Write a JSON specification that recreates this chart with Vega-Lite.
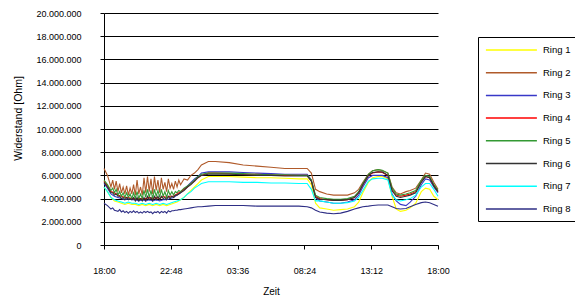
{
  "$schema": "https://vega.github.io/schema/vega-lite/v6.json",
  "width": 334,
  "height": 232,
  "autosize": {"type": "none"},
  "padding": {"left": 104, "top": 13, "right": 137, "bottom": 51},
  "background": "white",
  "config": {
    "view": {"stroke": null},
    "font": "Liberation Sans",
    "axis": {"labelFont": "Liberation Sans", "titleFont": "Liberation Sans", "labelColor": "#000", "titleColor": "#000", "titleFontWeight": "normal", "domainColor": "#000", "tickColor": "#000", "gridColor": "#000", "gridOpacity": 1}
  },
  "data": {"values": [
    {"t":0,"r1":5.0e6,"r2":6.6e6,"r3":5.3e6,"r4":5.5e6,"r5":5.6e6,"r6":5.4e6,"r7":5.0e6,"r8":3.6e6},
    {"t":0.25,"r1":4.6e6,"r2":6.0e6,"r3":4.9e6,"r4":5.1e6,"r5":5.2e6,"r6":5.0e6,"r7":4.6e6,"r8":3.4e6},
    {"t":0.5,"r1":4.1e6,"r2":5.0e6,"r3":4.4e6,"r4":4.6e6,"r5":4.7e6,"r6":4.5e6,"r7":4.1e6,"r8":3.1e6},
    {"t":0.625,"r2":5.6e6,"r5":4.9e6,"r6":4.5e6,"r8":3.2e6},
    {"t":0.75,"r1":3.8e6,"r2":4.8e6,"r3":4.2e6,"r4":4.5e6,"r5":4.5e6,"r6":4.3e6,"r7":3.9e6,"r8":3.0e6},
    {"t":0.875,"r2":5.5e6,"r5":4.8e6,"r6":4.4e6,"r8":2.95e6},
    {"t":1.0,"r1":3.7e6,"r2":4.6e6,"r3":4.1e6,"r4":4.3e6,"r5":4.3e6,"r6":4.2e6,"r7":3.8e6,"r8":2.9e6},
    {"t":1.125,"r2":5.3e6,"r5":4.6e6,"r6":4.2e6,"r8":3.05e6},
    {"t":1.25,"r1":3.6e6,"r2":4.5e6,"r3":4.0e6,"r4":4.2e6,"r5":4.2e6,"r6":4.0e6,"r7":3.7e6,"r8":2.85e6},
    {"t":1.375,"r2":5.0e6,"r5":4.5e6,"r6":4.1e6,"r8":2.95e6},
    {"t":1.5,"r1":3.5e6,"r2":4.4e6,"r3":3.9e6,"r4":4.1e6,"r5":4.1e6,"r6":3.9e6,"r7":3.6e6,"r8":2.8e6},
    {"t":1.625,"r2":5.1e6,"r5":4.5e6,"r6":4.1e6,"r8":2.9e6},
    {"t":1.75,"r1":3.6e6,"r2":4.3e6,"r3":4.0e6,"r4":4.1e6,"r5":4.1e6,"r6":3.9e6,"r7":3.7e6,"r8":2.75e6},
    {"t":1.875,"r2":4.9e6,"r5":4.4e6,"r6":4.0e6,"r8":2.9e6},
    {"t":2.0,"r1":3.5e6,"r2":4.4e6,"r3":3.9e6,"r4":4.0e6,"r5":4.0e6,"r6":3.9e6,"r7":3.6e6,"r8":2.8e6},
    {"t":2.125,"r2":5.2e6,"r5":4.5e6,"r6":4.1e6,"r8":2.95e6},
    {"t":2.25,"r1":3.5e6,"r2":4.3e6,"r3":3.9e6,"r4":4.0e6,"r5":4.0e6,"r6":3.8e6,"r7":3.6e6,"r8":2.8e6},
    {"t":2.375,"r2":5.6e6,"r5":4.6e6,"r6":4.1e6,"r8":2.9e6},
    {"t":2.5,"r1":3.4e6,"r2":4.4e6,"r3":3.8e6,"r4":4.0e6,"r5":4.0e6,"r6":3.8e6,"r7":3.5e6,"r8":2.75e6},
    {"t":2.625,"r2":5.0e6,"r5":4.4e6,"r6":4.0e6,"r8":2.85e6},
    {"t":2.75,"r1":3.5e6,"r2":4.3e6,"r3":3.9e6,"r4":4.0e6,"r5":4.0e6,"r6":3.8e6,"r7":3.6e6,"r8":2.75e6},
    {"t":2.875,"r2":5.8e6,"r5":4.7e6,"r6":4.1e6,"r8":2.9e6},
    {"t":3.0,"r1":3.4e6,"r2":4.5e6,"r3":3.8e6,"r4":4.0e6,"r5":4.1e6,"r6":3.8e6,"r7":3.5e6,"r8":2.8e6},
    {"t":3.125,"r2":5.9e6,"r5":4.8e6,"r6":4.2e6,"r8":2.9e6},
    {"t":3.25,"r1":3.5e6,"r2":4.6e6,"r3":3.9e6,"r4":4.1e6,"r5":4.1e6,"r6":3.9e6,"r7":3.6e6,"r8":2.8e6},
    {"t":3.375,"r2":5.7e6,"r5":4.7e6,"r6":4.1e6,"r8":2.85e6},
    {"t":3.5,"r1":3.4e6,"r2":4.4e6,"r3":3.8e6,"r4":4.0e6,"r5":4.0e6,"r6":3.8e6,"r7":3.5e6,"r8":2.7e6},
    {"t":3.625,"r2":5.9e6,"r5":4.8e6,"r6":4.2e6,"r8":2.85e6},
    {"t":3.75,"r1":3.5e6,"r2":4.7e6,"r3":3.9e6,"r4":4.1e6,"r5":4.2e6,"r6":3.9e6,"r7":3.6e6,"r8":2.8e6},
    {"t":3.875,"r2":5.6e6,"r5":4.7e6,"r6":4.2e6,"r8":2.9e6},
    {"t":4.0,"r1":3.4e6,"r2":4.5e6,"r3":3.8e6,"r4":4.0e6,"r5":4.1e6,"r6":3.9e6,"r7":3.5e6,"r8":2.75e6},
    {"t":4.125,"r2":5.8e6,"r5":4.8e6,"r6":4.2e6,"r8":2.9e6},
    {"t":4.25,"r1":3.5e6,"r2":4.8e6,"r3":3.9e6,"r4":4.2e6,"r5":4.2e6,"r6":4.0e6,"r7":3.6e6,"r8":2.8e6},
    {"t":4.375,"r2":5.4e6,"r5":4.6e6,"r6":4.1e6,"r8":2.9e6},
    {"t":4.5,"r1":3.4e6,"r2":4.6e6,"r3":3.9e6,"r4":4.1e6,"r5":4.1e6,"r6":3.9e6,"r7":3.5e6,"r8":2.75e6},
    {"t":4.625,"r2":5.7e6,"r5":4.7e6,"r6":4.2e6,"r8":2.95e6},
    {"t":4.75,"r1":3.5e6,"r2":4.9e6,"r3":4.0e6,"r4":4.2e6,"r5":4.3e6,"r6":4.0e6,"r7":3.6e6,"r8":2.85e6},
    {"t":4.875,"r2":5.3e6,"r5":4.6e6,"r6":4.2e6,"r8":2.95e6},
    {"t":5.0,"r1":3.6e6,"r2":4.8e6,"r3":4.1e6,"r4":4.2e6,"r5":4.3e6,"r6":4.1e6,"r7":3.7e6,"r8":2.95e6},
    {"t":5.125,"r2":5.5e6,"r5":4.6e6,"r6":4.3e6,"r8":3.0e6},
    {"t":5.25,"r1":3.7e6,"r2":5.0e6,"r3":4.3e6,"r4":4.4e6,"r5":4.5e6,"r6":4.3e6,"r7":3.8e6,"r8":3.0e6},
    {"t":5.375,"r2":5.6e6,"r5":4.7e6,"r6":4.4e6,"r8":3.05e6},
    {"t":5.5,"r1":3.9e6,"r2":5.2e6,"r3":4.5e6,"r4":4.6e6,"r5":4.6e6,"r6":4.5e6,"r7":3.9e6,"r8":3.05e6},
    {"t":5.75,"r1":4.1e6,"r2":5.7e6,"r3":4.8e6,"r4":4.8e6,"r5":4.9e6,"r6":4.7e6,"r7":4.1e6,"r8":3.1e6},
    {"t":6.0,"r1":4.4e6,"r2":5.6e6,"r3":5.1e6,"r4":5.0e6,"r5":5.1e6,"r6":5.0e6,"r7":4.4e6,"r8":3.15e6},
    {"t":6.25,"r1":4.7e6,"r2":6.0e6,"r3":5.4e6,"r4":5.3e6,"r5":5.3e6,"r6":5.2e6,"r7":4.6e6,"r8":3.2e6},
    {"t":6.5,"r1":5.0e6,"r2":6.2e6,"r3":5.7e6,"r4":5.5e6,"r5":5.6e6,"r6":5.5e6,"r7":4.9e6,"r8":3.25e6},
    {"t":6.75,"r1":5.3e6,"r2":6.5e6,"r3":5.9e6,"r4":5.8e6,"r5":5.9e6,"r6":5.8e6,"r7":5.1e6,"r8":3.3e6},
    {"t":7.0,"r1":5.6e6,"r2":6.9e6,"r3":6.2e6,"r4":6.0e6,"r5":6.1e6,"r6":6.0e6,"r7":5.3e6,"r8":3.3e6},
    {"t":7.5,"r1":5.9e6,"r2":7.2e6,"r3":6.3e6,"r4":6.2e6,"r5":6.2e6,"r6":6.1e6,"r7":5.45e6,"r8":3.35e6},
    {"t":8,"r1":5.9e6,"r2":7.2e6,"r3":6.3e6,"r4":6.2e6,"r5":6.2e6,"r6":6.1e6,"r7":5.45e6,"r8":3.4e6},
    {"t":9,"r1":5.9e6,"r2":7.1e6,"r3":6.3e6,"r4":6.15e6,"r5":6.2e6,"r6":6.1e6,"r7":5.45e6,"r8":3.4e6},
    {"t":10,"r1":5.85e6,"r2":6.9e6,"r3":6.25e6,"r4":6.1e6,"r5":6.15e6,"r6":6.05e6,"r7":5.4e6,"r8":3.4e6},
    {"t":11,"r1":5.8e6,"r2":6.8e6,"r3":6.2e6,"r4":6.1e6,"r5":6.1e6,"r6":6.0e6,"r7":5.4e6,"r8":3.35e6},
    {"t":12,"r1":5.8e6,"r2":6.7e6,"r3":6.15e6,"r4":6.05e6,"r5":6.05e6,"r6":6.0e6,"r7":5.35e6,"r8":3.35e6},
    {"t":13,"r1":5.75e6,"r2":6.6e6,"r3":6.1e6,"r4":6.0e6,"r5":6.05e6,"r6":5.95e6,"r7":5.35e6,"r8":3.35e6},
    {"t":14,"r1":5.7e6,"r2":6.6e6,"r3":6.1e6,"r4":6.0e6,"r5":6.0e6,"r6":5.95e6,"r7":5.3e6,"r8":3.35e6},
    {"t":14.6,"r1":5.7e6,"r2":6.6e6,"r3":6.1e6,"r4":6.0e6,"r5":6.0e6,"r6":5.95e6,"r7":5.3e6,"r8":3.3e6},
    {"t":14.9,"r1":5.2e6,"r2":6.2e6,"r3":5.6e6,"r4":5.5e6,"r5":5.6e6,"r6":5.5e6,"r7":4.8e6,"r8":3.2e6},
    {"t":15.2,"r1":3.6e6,"r2":4.8e6,"r3":4.1e6,"r4":4.2e6,"r5":4.3e6,"r6":4.1e6,"r7":3.8e6,"r8":3.0e6},
    {"t":15.5,"r1":3.2e6,"r2":4.6e6,"r3":3.8e6,"r4":4.0e6,"r5":4.1e6,"r6":3.95e6,"r7":3.8e6,"r8":2.85e6},
    {"t":16,"r1":3.1e6,"r2":4.4e6,"r3":3.7e6,"r4":3.9e6,"r5":4.0e6,"r6":3.9e6,"r7":3.7e6,"r8":2.75e6},
    {"t":16.5,"r1":3.0e6,"r2":4.3e6,"r3":3.6e6,"r4":3.85e6,"r5":3.95e6,"r6":3.85e6,"r7":3.6e6,"r8":2.7e6},
    {"t":17,"r1":3.05e6,"r2":4.3e6,"r3":3.6e6,"r4":3.85e6,"r5":3.95e6,"r6":3.85e6,"r7":3.6e6,"r8":2.75e6},
    {"t":17.5,"r1":3.1e6,"r2":4.3e6,"r3":3.7e6,"r4":3.9e6,"r5":4.0e6,"r6":3.9e6,"r7":3.65e6,"r8":2.9e6},
    {"t":18,"r1":3.3e6,"r2":4.5e6,"r3":3.9e6,"r4":4.1e6,"r5":4.2e6,"r6":4.1e6,"r7":3.8e6,"r8":3.1e6},
    {"t":18.3,"r1":3.7e6,"r2":4.8e6,"r3":4.3e6,"r4":4.5e6,"r5":4.6e6,"r6":4.5e6,"r7":4.1e6,"r8":3.2e6},
    {"t":18.6,"r1":4.5e6,"r2":5.4e6,"r3":5.0e6,"r4":5.2e6,"r5":5.3e6,"r6":5.2e6,"r7":4.7e6,"r8":3.3e6},
    {"t":19,"r1":5.4e6,"r2":6.1e6,"r3":5.8e6,"r4":6.0e6,"r5":6.1e6,"r6":6.0e6,"r7":5.5e6,"r8":3.35e6},
    {"t":19.3,"r1":5.8e6,"r2":6.4e6,"r3":6.0e6,"r4":6.2e6,"r5":6.4e6,"r6":6.25e6,"r7":5.7e6,"r8":3.4e6},
    {"t":19.7,"r1":5.9e6,"r2":6.5e6,"r3":6.0e6,"r4":6.3e6,"r5":6.5e6,"r6":6.3e6,"r7":5.75e6,"r8":3.45e6},
    {"t":20,"r1":5.9e6,"r2":6.4e6,"r3":6.0e6,"r4":6.25e6,"r5":6.45e6,"r6":6.3e6,"r7":5.75e6,"r8":3.45e6},
    {"t":20.4,"r1":5.7e6,"r2":6.2e6,"r3":5.8e6,"r4":6.0e6,"r5":6.2e6,"r6":6.0e6,"r7":5.6e6,"r8":3.45e6},
    {"t":20.7,"r1":4.2e6,"r2":5.0e6,"r3":4.4e6,"r4":4.7e6,"r5":4.9e6,"r6":4.7e6,"r7":4.3e6,"r8":3.3e6},
    {"t":21,"r1":3.1e6,"r2":4.5e6,"r3":3.8e6,"r4":4.3e6,"r5":4.4e6,"r6":4.2e6,"r7":3.9e6,"r8":3.15e6},
    {"t":21.3,"r1":2.9e6,"r2":4.4e6,"r3":3.5e6,"r4":4.2e6,"r5":4.3e6,"r6":4.1e6,"r7":3.8e6,"r8":3.1e6},
    {"t":21.7,"r1":3.0e6,"r2":4.6e6,"r3":3.4e6,"r4":4.3e6,"r5":4.4e6,"r6":4.2e6,"r7":3.9e6,"r8":3.15e6},
    {"t":22,"r1":3.2e6,"r2":4.7e6,"r3":3.7e6,"r4":4.4e6,"r5":4.5e6,"r6":4.3e6,"r7":4.0e6,"r8":3.3e6},
    {"t":22.4,"r1":3.6e6,"r2":4.9e6,"r3":4.2e6,"r4":4.6e6,"r5":4.7e6,"r6":4.5e6,"r7":4.3e6,"r8":3.5e6},
    {"t":22.8,"r1":4.6e6,"r2":5.6e6,"r3":5.2e6,"r4":5.5e6,"r5":5.6e6,"r6":5.4e6,"r7":5.0e6,"r8":3.65e6},
    {"t":23.1,"r1":4.9e6,"r2":6.2e6,"r3":5.7e6,"r4":5.9e6,"r5":6.0e6,"r6":5.9e6,"r7":5.3e6,"r8":3.7e6},
    {"t":23.4,"r1":4.8e6,"r2":6.1e6,"r3":5.6e6,"r4":5.8e6,"r5":5.9e6,"r6":5.8e6,"r7":5.3e6,"r8":3.65e6},
    {"t":23.7,"r1":4.2e6,"r2":5.4e6,"r3":5.0e6,"r4":5.1e6,"r5":5.2e6,"r6":5.1e6,"r7":4.8e6,"r8":3.5e6},
    {"t":24,"r1":3.9e6,"r2":4.8e6,"r3":4.5e6,"r4":4.6e6,"r5":4.7e6,"r6":4.6e6,"r7":4.2e6,"r8":3.35e6}
  ]},
  "transform": [
    {"fold": ["r1","r2","r3","r4","r5","r6","r7","r8"], "as": ["ring","ohm"]},
    {"filter": {"field": "ohm", "valid": true}}
  ],
  "mark": {"type": "line", "strokeWidth": 1.1, "interpolate": "linear"},
  "encoding": {
    "x": {
      "field": "t", "type": "quantitative",
      "scale": {"domain": [0, 24], "nice": false, "zero": false},
      "axis": {
        "values": [0, 4.8, 9.6, 14.4, 19.2, 24],
        "labelExpr": "pad(floor((18+datum.value)%24)+'', 2, '0', 'left') + ':' + pad(round((((18+datum.value)%24)%1)*60)+'', 2, '0', 'left')",
        "grid": false, "tickSize": 4, "labelPadding": 17, "labelFontSize": 9, "labelFlush": false,
        "title": "Zeit", "titleFontSize": 10, "titleY": 41, "titleBaseline": "top"
      }
    },
    "y": {
      "field": "ohm", "type": "quantitative",
      "scale": {"domain": [0, 20000000], "nice": false},
      "axis": {
        "values": [0, 2000000, 4000000, 6000000, 8000000, 10000000, 12000000, 14000000, 16000000, 18000000, 20000000],
        "labelExpr": "replace(format(datum.value, ','), regexp(',', 'g'), '.')",
        "grid": true, "tickSize": 4, "labelPadding": 19, "labelFontSize": 9, "labelBaseline": "middle",
        "title": "Widerstand [Ohm]", "titleFontSize": 10.5, "titleAngle": -90, "titleX": -86, "titleY": 105, "titleAlign": "center", "titleBaseline": "middle"
      }
    },
    "color": {
      "field": "ring", "type": "nominal",
      "scale": {
        "domain": ["r1","r2","r3","r4","r5","r6","r7","r8"],
        "range": ["#FFFF00", "#B05A2A", "#3838C8", "#FF0000", "#339933", "#333333", "#00FFFF", "#2E2E85"]
      },
      "legend": {
        "orient": "none", "legendX": 374, "legendY": 24,
        "title": null,
        "labelExpr": "replace(datum.label, 'r', 'Ring ')",
        "symbolType": "M-1,0H9", "symbolSize": 104, "symbolStrokeWidth": 1.5,
        "labelFont": "Liberation Sans", "labelFontSize": 9.5, "labelColor": "#000", "labelOffset": 46,
        "strokeColor": "#000", "fillColor": "white", "padding": 7,
        "rowPadding": 11.7
      }
    }
  }
}
